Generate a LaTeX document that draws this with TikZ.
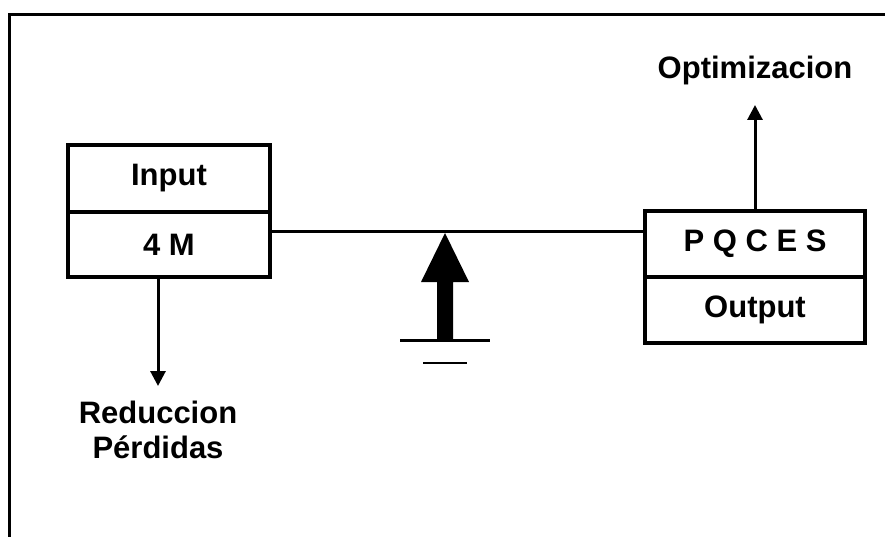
\documentclass[tikz,border=0pt]{standalone}
\usepackage{fontspec}
\setmainfont{Liberation Sans}
\usetikzlibrary{arrows.meta, positioning}

\begin{document}
\begin{tikzpicture}[x=1pt, y=-1pt, >={Triangle[width=15pt,length=15pt]},
    cell/.style={rectangle, draw, line width=3.5pt, outer sep=0pt, inner sep=0pt, minimum height=66pt, font=\bfseries\fontsize{31}{35}\selectfont},
    lbl/.style={align=center, inner xsep=0pt, font=\bfseries\fontsize{31}{35}\selectfont},
    arrow/.style={->, line width=3pt}]
  \useasboundingbox (0,0) rectangle (885,537);
  \draw[line width=3pt] (9,537) -- (9,15) -- (885,15);
  \node[cell, minimum width=202pt, minimum height=67pt] (inp) at (169,178.5) {Input};
  \node[cell, minimum width=202pt, minimum height=65pt, below=0pt of inp] (fourm) {4 M};
  \node[cell, minimum width=220pt] (pq) at (755,244) {P Q C E S};
  \node[cell, minimum width=220pt, below=0pt of pq] (outp) {Output};
  \node[lbl, anchor=north, inner ysep=15pt] (red) at (158,386) {Reduccion\\Pérdidas};
  \node[lbl, anchor=south, inner ysep=20pt] (opt) at (755,105) {Optimizacion};
  % link and ground
  \coordinate (lnk) at (0,232);
  \coordinate (gnd) at (445,233);
  \draw[line width=3pt] (fourm.east |- lnk) -- (pq.west |- lnk);
  \fill (gnd) -- ++(24,49) -- ++(-16,0) -- ++(0,58) -- ++(-16,0) -- ++(0,-58) -- ++(-16,0) -- cycle;
  \draw[line width=3pt] (400,340) -- (490,340);
  \draw[line width=2.5pt] (423,363) -- (467,363);
  \draw[arrow] (fourm.south -| red.north) -- (red.north);
  \draw[arrow] (pq.north) -- (opt.south);
\end{tikzpicture}
\end{document}
